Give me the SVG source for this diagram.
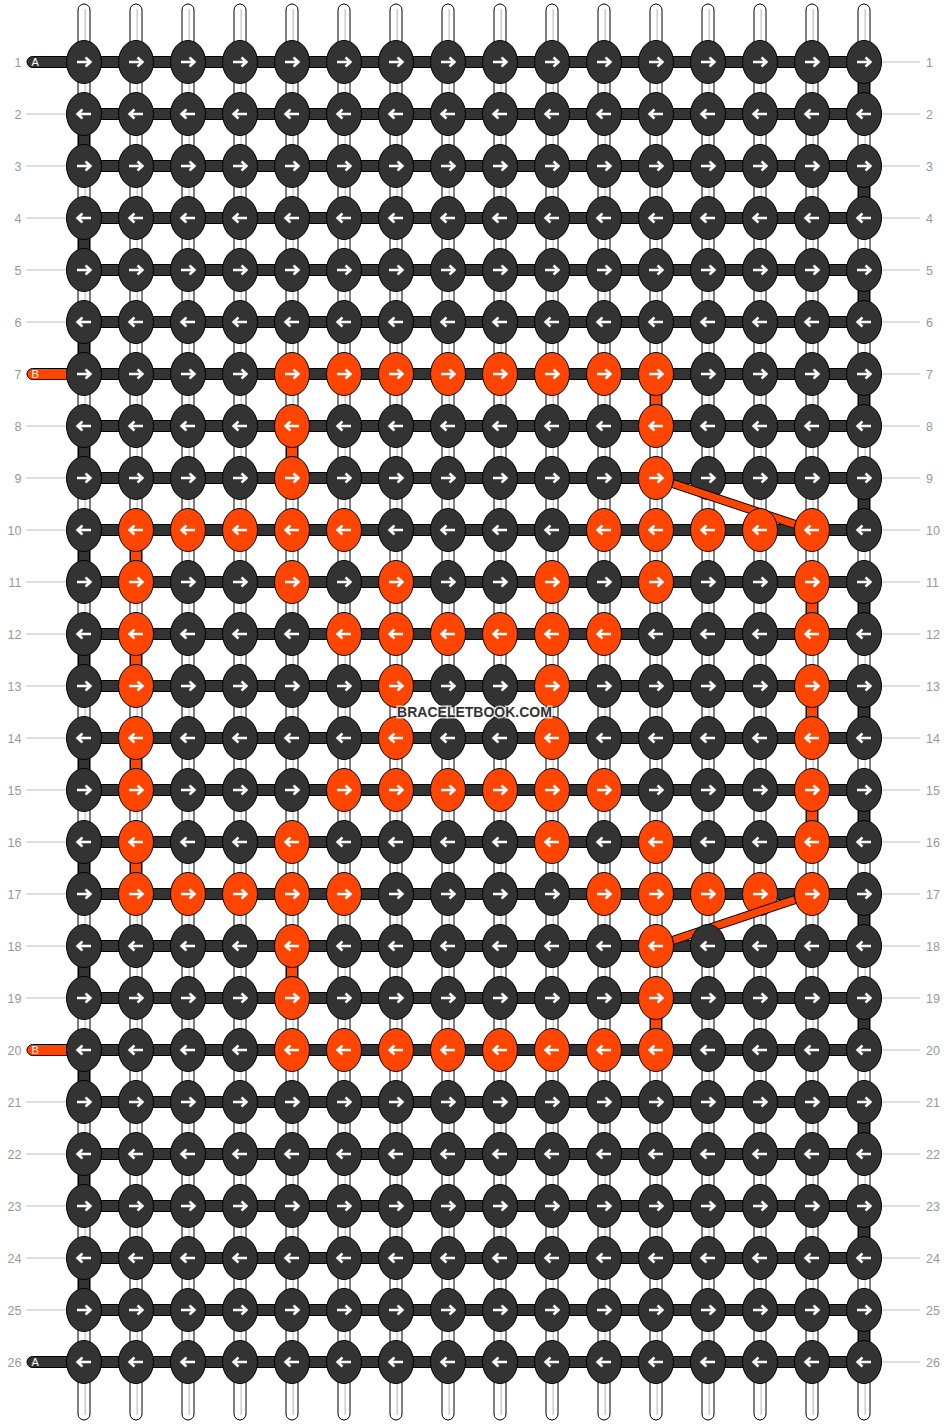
<svg xmlns="http://www.w3.org/2000/svg" xmlns:xlink="http://www.w3.org/1999/xlink" width="948" height="1424" viewBox="0 0 948 1424">
<style>
.st{fill:#fff;stroke:#000;stroke-width:1}
.sg{stroke:#cccccc;stroke-width:1.5}
.bd{fill:#333;stroke:#000;stroke-width:1}
.bo{fill:#ff4500;stroke:#000;stroke-width:1}
.kd{fill:#333;stroke:#000;stroke-width:1}
.ko{fill:#ff4500;stroke:#000;stroke-width:1}
.ar{fill:none;stroke:#fff;stroke-width:2.5}
.rl{stroke:#c0c0c0;stroke-width:1}
.lb{font-family:"Liberation Sans",Arial,sans-serif;font-size:12.5px;fill:#999999}
.lr{text-anchor:end}
.tl{font-family:"Liberation Sans",Arial,sans-serif;font-size:11px;fill:#fff}
.wm{font-family:"Liberation Sans",Arial,sans-serif;font-size:14px;font-weight:bold;fill:#333;stroke:#fff;stroke-opacity:0.75;stroke-width:3;paint-order:stroke;text-anchor:middle}
</style>
<defs>
<g id="dR"><ellipse rx="17.5" ry="21.5" class="kd"/><path class="ar" d="M-7,0H6M1.5,-4.5L6.5,0L1.5,4.5"/></g>
<g id="dL"><ellipse rx="17.5" ry="21.5" class="kd"/><path class="ar" d="M7,0H-6M-1.5,-4.5L-6.5,0L-1.5,4.5"/></g>
<g id="oR"><ellipse rx="17.5" ry="21.5" class="ko"/><path class="ar" d="M-7,0H6M1.5,-4.5L6.5,0L1.5,4.5"/></g>
<g id="oL"><ellipse rx="17.5" ry="21.5" class="ko"/><path class="ar" d="M7,0H-6M-1.5,-4.5L-6.5,0L-1.5,4.5"/></g>
<g id="strand"><rect class="st" x="-6" y="4" width="12" height="1416" rx="6"/><line class="sg" x1="1.2" y1="9" x2="1.2" y2="1415"/></g>
</defs>
<rect width="948" height="1424" fill="#fff"/>
<g id="labels">
<g class="lb lr">
<text x="21.5" y="66.5">1</text><text x="21.5" y="118.5">2</text><text x="21.5" y="170.5">3</text><text x="21.5" y="222.5">4</text><text x="21.5" y="274.5">5</text><text x="21.5" y="326.5">6</text><text x="21.5" y="378.5">7</text><text x="21.5" y="430.5">8</text><text x="21.5" y="482.5">9</text><text x="21.5" y="534.5">10</text><text x="21.5" y="586.5">11</text><text x="21.5" y="638.5">12</text><text x="21.5" y="690.5">13</text><text x="21.5" y="742.5">14</text><text x="21.5" y="794.5">15</text><text x="21.5" y="846.5">16</text><text x="21.5" y="898.5">17</text><text x="21.5" y="950.5">18</text><text x="21.5" y="1002.5">19</text><text x="21.5" y="1054.5">20</text><text x="21.5" y="1106.5">21</text><text x="21.5" y="1158.5">22</text><text x="21.5" y="1210.5">23</text><text x="21.5" y="1262.5">24</text><text x="21.5" y="1314.5">25</text><text x="21.5" y="1366.5">26</text>
</g>
<g class="lb">
<text x="926" y="66.5">1</text><text x="926" y="118.5">2</text><text x="926" y="170.5">3</text><text x="926" y="222.5">4</text><text x="926" y="274.5">5</text><text x="926" y="326.5">6</text><text x="926" y="378.5">7</text><text x="926" y="430.5">8</text><text x="926" y="482.5">9</text><text x="926" y="534.5">10</text><text x="926" y="586.5">11</text><text x="926" y="638.5">12</text><text x="926" y="690.5">13</text><text x="926" y="742.5">14</text><text x="926" y="794.5">15</text><text x="926" y="846.5">16</text><text x="926" y="898.5">17</text><text x="926" y="950.5">18</text><text x="926" y="1002.5">19</text><text x="926" y="1054.5">20</text><text x="926" y="1106.5">21</text><text x="926" y="1158.5">22</text><text x="926" y="1210.5">23</text><text x="926" y="1262.5">24</text><text x="926" y="1314.5">25</text><text x="926" y="1366.5">26</text>
</g>
<g class="rl">
<line x1="26" y1="114" x2="67" y2="114"/><line x1="26" y1="166" x2="67" y2="166"/><line x1="26" y1="218" x2="67" y2="218"/><line x1="26" y1="270" x2="67" y2="270"/><line x1="26" y1="322" x2="67" y2="322"/><line x1="26" y1="426" x2="67" y2="426"/><line x1="26" y1="478" x2="67" y2="478"/><line x1="26" y1="530" x2="67" y2="530"/><line x1="26" y1="582" x2="67" y2="582"/><line x1="26" y1="634" x2="67" y2="634"/><line x1="26" y1="686" x2="67" y2="686"/><line x1="26" y1="738" x2="67" y2="738"/><line x1="26" y1="790" x2="67" y2="790"/><line x1="26" y1="842" x2="67" y2="842"/><line x1="26" y1="894" x2="67" y2="894"/><line x1="26" y1="946" x2="67" y2="946"/><line x1="26" y1="998" x2="67" y2="998"/><line x1="26" y1="1102" x2="67" y2="1102"/><line x1="26" y1="1154" x2="67" y2="1154"/><line x1="26" y1="1206" x2="67" y2="1206"/><line x1="26" y1="1258" x2="67" y2="1258"/><line x1="26" y1="1310" x2="67" y2="1310"/>
<line x1="881" y1="62" x2="920" y2="62"/><line x1="881" y1="114" x2="920" y2="114"/><line x1="881" y1="166" x2="920" y2="166"/><line x1="881" y1="218" x2="920" y2="218"/><line x1="881" y1="270" x2="920" y2="270"/><line x1="881" y1="322" x2="920" y2="322"/><line x1="881" y1="374" x2="920" y2="374"/><line x1="881" y1="426" x2="920" y2="426"/><line x1="881" y1="478" x2="920" y2="478"/><line x1="881" y1="530" x2="920" y2="530"/><line x1="881" y1="582" x2="920" y2="582"/><line x1="881" y1="634" x2="920" y2="634"/><line x1="881" y1="686" x2="920" y2="686"/><line x1="881" y1="738" x2="920" y2="738"/><line x1="881" y1="790" x2="920" y2="790"/><line x1="881" y1="842" x2="920" y2="842"/><line x1="881" y1="894" x2="920" y2="894"/><line x1="881" y1="946" x2="920" y2="946"/><line x1="881" y1="998" x2="920" y2="998"/><line x1="881" y1="1050" x2="920" y2="1050"/><line x1="881" y1="1102" x2="920" y2="1102"/><line x1="881" y1="1154" x2="920" y2="1154"/><line x1="881" y1="1206" x2="920" y2="1206"/><line x1="881" y1="1258" x2="920" y2="1258"/><line x1="881" y1="1310" x2="920" y2="1310"/><line x1="881" y1="1362" x2="920" y2="1362"/>
</g>
</g>
<g id="strands">
<use href="#strand" x="84"/><use href="#strand" x="136"/><use href="#strand" x="188"/><use href="#strand" x="240"/><use href="#strand" x="292"/><use href="#strand" x="344"/><use href="#strand" x="396"/><use href="#strand" x="448"/><use href="#strand" x="500"/><use href="#strand" x="552"/><use href="#strand" x="604"/><use href="#strand" x="656"/><use href="#strand" x="708"/><use href="#strand" x="760"/><use href="#strand" x="812"/><use href="#strand" x="864"/>
</g>
<g id="connectors">
<g id="tails">
<path class="bd" d="M84,56.5H32.5a5.5,5.5 0 0 0 0,11H84Z"/><text class="tl" x="31.5" y="66">A</text>
<path class="bo" d="M84,368.5H32.5a5.5,5.5 0 0 0 0,11H84Z"/><text class="tl" x="31.5" y="378">B</text>
<path class="bo" d="M84,1044.5H32.5a5.5,5.5 0 0 0 0,11H84Z"/><text class="tl" x="31.5" y="1054">B</text>
<path class="bd" d="M84,1356.5H32.5a5.5,5.5 0 0 0 0,11H84Z"/><text class="tl" x="31.5" y="1366">A</text>
</g>
<g id="rowbars" class="bd">
<rect x="84" y="56.5" width="780" height="11"/><rect x="84" y="108.5" width="780" height="11"/><rect x="84" y="160.5" width="780" height="11"/><rect x="84" y="212.5" width="780" height="11"/><rect x="84" y="264.5" width="780" height="11"/><rect x="84" y="316.5" width="780" height="11"/><rect x="84" y="368.5" width="780" height="11"/><rect x="84" y="420.5" width="780" height="11"/><rect x="84" y="472.5" width="780" height="11"/><rect x="84" y="524.5" width="780" height="11"/><rect x="84" y="576.5" width="780" height="11"/><rect x="84" y="628.5" width="780" height="11"/><rect x="84" y="680.5" width="780" height="11"/><rect x="84" y="732.5" width="780" height="11"/><rect x="84" y="784.5" width="780" height="11"/><rect x="84" y="836.5" width="780" height="11"/><rect x="84" y="888.5" width="780" height="11"/><rect x="84" y="940.5" width="780" height="11"/><rect x="84" y="992.5" width="780" height="11"/><rect x="84" y="1044.5" width="780" height="11"/><rect x="84" y="1096.5" width="780" height="11"/><rect x="84" y="1148.5" width="780" height="11"/><rect x="84" y="1200.5" width="780" height="11"/><rect x="84" y="1252.5" width="780" height="11"/><rect x="84" y="1304.5" width="780" height="11"/><rect x="84" y="1356.5" width="780" height="11"/>
</g>
<g id="turns-a" class="bd">
<rect x="858.5" y="62" width="11" height="52"/><rect x="858.5" y="166" width="11" height="52"/><rect x="858.5" y="270" width="11" height="52"/><rect x="858.5" y="374" width="11" height="52"/><rect x="858.5" y="478" width="11" height="52"/><rect x="858.5" y="582" width="11" height="52"/><rect x="858.5" y="686" width="11" height="52"/><rect x="858.5" y="790" width="11" height="52"/><rect x="858.5" y="894" width="11" height="52"/><rect x="858.5" y="998" width="11" height="52"/><rect x="858.5" y="1102" width="11" height="52"/><rect x="858.5" y="1206" width="11" height="52"/><rect x="858.5" y="1310" width="11" height="52"/>
<rect x="78.5" y="114" width="11" height="52"/><rect x="78.5" y="218" width="11" height="52"/><rect x="78.5" y="322" width="11" height="52"/><rect x="78.5" y="426" width="11" height="52"/><rect x="78.5" y="530" width="11" height="52"/><rect x="78.5" y="634" width="11" height="52"/><rect x="78.5" y="738" width="11" height="52"/><rect x="78.5" y="842" width="11" height="52"/><rect x="78.5" y="946" width="11" height="52"/><rect x="78.5" y="1050" width="11" height="52"/><rect x="78.5" y="1154" width="11" height="52"/><rect x="78.5" y="1258" width="11" height="52"/>
</g>
<g id="turns-b" class="bo">
<rect x="650.5" y="374" width="11" height="52"/><rect x="286.5" y="426" width="11" height="52"/><rect x="130.5" y="530" width="11" height="52"/><rect x="806.5" y="582" width="11" height="52"/><rect x="130.5" y="634" width="11" height="52"/><rect x="806.5" y="686" width="11" height="52"/><rect x="130.5" y="738" width="11" height="52"/><rect x="806.5" y="790" width="11" height="52"/><rect x="130.5" y="842" width="11" height="52"/><rect x="286.5" y="946" width="11" height="52"/><rect x="650.5" y="998" width="11" height="52"/>
</g>
</g>
<g id="knots">
<g id="row1" transform="translate(0,62)"><g id="k1-1"><use href="#dR" x="84"/></g><g id="k1-2"><use href="#dR" x="136"/></g><g id="k1-3"><use href="#dR" x="188"/></g><g id="k1-4"><use href="#dR" x="240"/></g><g id="k1-5"><use href="#dR" x="292"/></g><g id="k1-6"><use href="#dR" x="344"/></g><g id="k1-7"><use href="#dR" x="396"/></g><g id="k1-8"><use href="#dR" x="448"/></g><g id="k1-9"><use href="#dR" x="500"/></g><g id="k1-10"><use href="#dR" x="552"/></g><g id="k1-11"><use href="#dR" x="604"/></g><g id="k1-12"><use href="#dR" x="656"/></g><g id="k1-13"><use href="#dR" x="708"/></g><g id="k1-14"><use href="#dR" x="760"/></g><g id="k1-15"><use href="#dR" x="812"/></g><g id="k1-16"><use href="#dR" x="864"/></g></g>
<g id="row2" transform="translate(0,114)"><g id="k2-1"><use href="#dL" x="84"/></g><g id="k2-2"><use href="#dL" x="136"/></g><g id="k2-3"><use href="#dL" x="188"/></g><g id="k2-4"><use href="#dL" x="240"/></g><g id="k2-5"><use href="#dL" x="292"/></g><g id="k2-6"><use href="#dL" x="344"/></g><g id="k2-7"><use href="#dL" x="396"/></g><g id="k2-8"><use href="#dL" x="448"/></g><g id="k2-9"><use href="#dL" x="500"/></g><g id="k2-10"><use href="#dL" x="552"/></g><g id="k2-11"><use href="#dL" x="604"/></g><g id="k2-12"><use href="#dL" x="656"/></g><g id="k2-13"><use href="#dL" x="708"/></g><g id="k2-14"><use href="#dL" x="760"/></g><g id="k2-15"><use href="#dL" x="812"/></g><g id="k2-16"><use href="#dL" x="864"/></g></g>
<g id="row3" transform="translate(0,166)"><g id="k3-1"><use href="#dR" x="84"/></g><g id="k3-2"><use href="#dR" x="136"/></g><g id="k3-3"><use href="#dR" x="188"/></g><g id="k3-4"><use href="#dR" x="240"/></g><g id="k3-5"><use href="#dR" x="292"/></g><g id="k3-6"><use href="#dR" x="344"/></g><g id="k3-7"><use href="#dR" x="396"/></g><g id="k3-8"><use href="#dR" x="448"/></g><g id="k3-9"><use href="#dR" x="500"/></g><g id="k3-10"><use href="#dR" x="552"/></g><g id="k3-11"><use href="#dR" x="604"/></g><g id="k3-12"><use href="#dR" x="656"/></g><g id="k3-13"><use href="#dR" x="708"/></g><g id="k3-14"><use href="#dR" x="760"/></g><g id="k3-15"><use href="#dR" x="812"/></g><g id="k3-16"><use href="#dR" x="864"/></g></g>
<g id="row4" transform="translate(0,218)"><g id="k4-1"><use href="#dL" x="84"/></g><g id="k4-2"><use href="#dL" x="136"/></g><g id="k4-3"><use href="#dL" x="188"/></g><g id="k4-4"><use href="#dL" x="240"/></g><g id="k4-5"><use href="#dL" x="292"/></g><g id="k4-6"><use href="#dL" x="344"/></g><g id="k4-7"><use href="#dL" x="396"/></g><g id="k4-8"><use href="#dL" x="448"/></g><g id="k4-9"><use href="#dL" x="500"/></g><g id="k4-10"><use href="#dL" x="552"/></g><g id="k4-11"><use href="#dL" x="604"/></g><g id="k4-12"><use href="#dL" x="656"/></g><g id="k4-13"><use href="#dL" x="708"/></g><g id="k4-14"><use href="#dL" x="760"/></g><g id="k4-15"><use href="#dL" x="812"/></g><g id="k4-16"><use href="#dL" x="864"/></g></g>
<g id="row5" transform="translate(0,270)"><g id="k5-1"><use href="#dR" x="84"/></g><g id="k5-2"><use href="#dR" x="136"/></g><g id="k5-3"><use href="#dR" x="188"/></g><g id="k5-4"><use href="#dR" x="240"/></g><g id="k5-5"><use href="#dR" x="292"/></g><g id="k5-6"><use href="#dR" x="344"/></g><g id="k5-7"><use href="#dR" x="396"/></g><g id="k5-8"><use href="#dR" x="448"/></g><g id="k5-9"><use href="#dR" x="500"/></g><g id="k5-10"><use href="#dR" x="552"/></g><g id="k5-11"><use href="#dR" x="604"/></g><g id="k5-12"><use href="#dR" x="656"/></g><g id="k5-13"><use href="#dR" x="708"/></g><g id="k5-14"><use href="#dR" x="760"/></g><g id="k5-15"><use href="#dR" x="812"/></g><g id="k5-16"><use href="#dR" x="864"/></g></g>
<g id="row6" transform="translate(0,322)"><g id="k6-1"><use href="#dL" x="84"/></g><g id="k6-2"><use href="#dL" x="136"/></g><g id="k6-3"><use href="#dL" x="188"/></g><g id="k6-4"><use href="#dL" x="240"/></g><g id="k6-5"><use href="#dL" x="292"/></g><g id="k6-6"><use href="#dL" x="344"/></g><g id="k6-7"><use href="#dL" x="396"/></g><g id="k6-8"><use href="#dL" x="448"/></g><g id="k6-9"><use href="#dL" x="500"/></g><g id="k6-10"><use href="#dL" x="552"/></g><g id="k6-11"><use href="#dL" x="604"/></g><g id="k6-12"><use href="#dL" x="656"/></g><g id="k6-13"><use href="#dL" x="708"/></g><g id="k6-14"><use href="#dL" x="760"/></g><g id="k6-15"><use href="#dL" x="812"/></g><g id="k6-16"><use href="#dL" x="864"/></g></g>
<g id="row7" transform="translate(0,374)"><g id="k7-1"><use href="#dR" x="84"/></g><g id="k7-2"><use href="#dR" x="136"/></g><g id="k7-3"><use href="#dR" x="188"/></g><g id="k7-4"><use href="#dR" x="240"/></g><g id="k7-5"><use href="#oR" x="292"/></g><g id="k7-6"><use href="#oR" x="344"/></g><g id="k7-7"><use href="#oR" x="396"/></g><g id="k7-8"><use href="#oR" x="448"/></g><g id="k7-9"><use href="#oR" x="500"/></g><g id="k7-10"><use href="#oR" x="552"/></g><g id="k7-11"><use href="#oR" x="604"/></g><g id="k7-12"><use href="#oR" x="656"/></g><g id="k7-13"><use href="#dR" x="708"/></g><g id="k7-14"><use href="#dR" x="760"/></g><g id="k7-15"><use href="#dR" x="812"/></g><g id="k7-16"><use href="#dR" x="864"/></g></g>
<g id="row8" transform="translate(0,426)"><g id="k8-1"><use href="#dL" x="84"/></g><g id="k8-2"><use href="#dL" x="136"/></g><g id="k8-3"><use href="#dL" x="188"/></g><g id="k8-4"><use href="#dL" x="240"/></g><g id="k8-5"><use href="#oL" x="292"/></g><g id="k8-6"><use href="#dL" x="344"/></g><g id="k8-7"><use href="#dL" x="396"/></g><g id="k8-8"><use href="#dL" x="448"/></g><g id="k8-9"><use href="#dL" x="500"/></g><g id="k8-10"><use href="#dL" x="552"/></g><g id="k8-11"><use href="#dL" x="604"/></g><g id="k8-12"><use href="#oL" x="656"/></g><g id="k8-13"><use href="#dL" x="708"/></g><g id="k8-14"><use href="#dL" x="760"/></g><g id="k8-15"><use href="#dL" x="812"/></g><g id="k8-16"><use href="#dL" x="864"/></g></g>
<g id="row9" transform="translate(0,478)"><g id="k9-1"><use href="#dR" x="84"/></g><g id="k9-2"><use href="#dR" x="136"/></g><g id="k9-3"><use href="#dR" x="188"/></g><g id="k9-4"><use href="#dR" x="240"/></g><g id="k9-5"><use href="#oR" x="292"/></g><g id="k9-6"><use href="#dR" x="344"/></g><g id="k9-7"><use href="#dR" x="396"/></g><g id="k9-8"><use href="#dR" x="448"/></g><g id="k9-9"><use href="#dR" x="500"/></g><g id="k9-10"><use href="#dR" x="552"/></g><g id="k9-11"><use href="#dR" x="604"/></g><g id="k9-12"><use href="#oR" x="656"/></g><g id="k9-13"><use href="#dR" x="708"/></g><g id="k9-14"><use href="#dR" x="760"/></g><g id="k9-15"><use href="#dR" x="812"/></g><g id="k9-16"><use href="#dR" x="864"/></g></g>
<g id="link-b-9-10" class="bo"><polygon points="671.6,487.4 793.8,528.2 796.4,520.6 674.2,479.8"/></g>
<g id="row10" transform="translate(0,530)"><g id="k10-1"><use href="#dL" x="84"/></g><g id="k10-2"><use href="#oL" x="136"/></g><g id="k10-3"><use href="#oL" x="188"/></g><g id="k10-4"><use href="#oL" x="240"/></g><g id="k10-5"><use href="#oL" x="292"/></g><g id="k10-6"><use href="#oL" x="344"/></g><g id="k10-7"><use href="#dL" x="396"/></g><g id="k10-8"><use href="#dL" x="448"/></g><g id="k10-9"><use href="#dL" x="500"/></g><g id="k10-10"><use href="#dL" x="552"/></g><g id="k10-11"><use href="#oL" x="604"/></g><g id="k10-12"><use href="#oL" x="656"/></g><g id="k10-13"><use href="#oL" x="708"/></g><g id="k10-14"><use href="#oL" x="760"/></g><g id="k10-15"><use href="#oL" x="812"/></g><g id="k10-16"><use href="#dL" x="864"/></g></g>
<g id="row11" transform="translate(0,582)"><g id="k11-1"><use href="#dR" x="84"/></g><g id="k11-2"><use href="#oR" x="136"/></g><g id="k11-3"><use href="#dR" x="188"/></g><g id="k11-4"><use href="#dR" x="240"/></g><g id="k11-5"><use href="#oR" x="292"/></g><g id="k11-6"><use href="#dR" x="344"/></g><g id="k11-7"><use href="#oR" x="396"/></g><g id="k11-8"><use href="#dR" x="448"/></g><g id="k11-9"><use href="#dR" x="500"/></g><g id="k11-10"><use href="#oR" x="552"/></g><g id="k11-11"><use href="#dR" x="604"/></g><g id="k11-12"><use href="#oR" x="656"/></g><g id="k11-13"><use href="#dR" x="708"/></g><g id="k11-14"><use href="#dR" x="760"/></g><g id="k11-15"><use href="#oR" x="812"/></g><g id="k11-16"><use href="#dR" x="864"/></g></g>
<g id="row12" transform="translate(0,634)"><g id="k12-1"><use href="#dL" x="84"/></g><g id="k12-2"><use href="#oL" x="136"/></g><g id="k12-3"><use href="#dL" x="188"/></g><g id="k12-4"><use href="#dL" x="240"/></g><g id="k12-5"><use href="#dL" x="292"/></g><g id="k12-6"><use href="#oL" x="344"/></g><g id="k12-7"><use href="#oL" x="396"/></g><g id="k12-8"><use href="#oL" x="448"/></g><g id="k12-9"><use href="#oL" x="500"/></g><g id="k12-10"><use href="#oL" x="552"/></g><g id="k12-11"><use href="#oL" x="604"/></g><g id="k12-12"><use href="#dL" x="656"/></g><g id="k12-13"><use href="#dL" x="708"/></g><g id="k12-14"><use href="#dL" x="760"/></g><g id="k12-15"><use href="#oL" x="812"/></g><g id="k12-16"><use href="#dL" x="864"/></g></g>
<g id="row13" transform="translate(0,686)"><g id="k13-1"><use href="#dR" x="84"/></g><g id="k13-2"><use href="#oR" x="136"/></g><g id="k13-3"><use href="#dR" x="188"/></g><g id="k13-4"><use href="#dR" x="240"/></g><g id="k13-5"><use href="#dR" x="292"/></g><g id="k13-6"><use href="#dR" x="344"/></g><g id="k13-7"><use href="#oR" x="396"/></g><g id="k13-8"><use href="#dR" x="448"/></g><g id="k13-9"><use href="#dR" x="500"/></g><g id="k13-10"><use href="#oR" x="552"/></g><g id="k13-11"><use href="#dR" x="604"/></g><g id="k13-12"><use href="#dR" x="656"/></g><g id="k13-13"><use href="#dR" x="708"/></g><g id="k13-14"><use href="#dR" x="760"/></g><g id="k13-15"><use href="#oR" x="812"/></g><g id="k13-16"><use href="#dR" x="864"/></g></g>
<g id="row14" transform="translate(0,738)"><g id="k14-1"><use href="#dL" x="84"/></g><g id="k14-2"><use href="#oL" x="136"/></g><g id="k14-3"><use href="#dL" x="188"/></g><g id="k14-4"><use href="#dL" x="240"/></g><g id="k14-5"><use href="#dL" x="292"/></g><g id="k14-6"><use href="#dL" x="344"/></g><g id="k14-7"><use href="#oL" x="396"/></g><g id="k14-8"><use href="#dL" x="448"/></g><g id="k14-9"><use href="#dL" x="500"/></g><g id="k14-10"><use href="#oL" x="552"/></g><g id="k14-11"><use href="#dL" x="604"/></g><g id="k14-12"><use href="#dL" x="656"/></g><g id="k14-13"><use href="#dL" x="708"/></g><g id="k14-14"><use href="#dL" x="760"/></g><g id="k14-15"><use href="#oL" x="812"/></g><g id="k14-16"><use href="#dL" x="864"/></g></g>
<g id="row15" transform="translate(0,790)"><g id="k15-1"><use href="#dR" x="84"/></g><g id="k15-2"><use href="#oR" x="136"/></g><g id="k15-3"><use href="#dR" x="188"/></g><g id="k15-4"><use href="#dR" x="240"/></g><g id="k15-5"><use href="#dR" x="292"/></g><g id="k15-6"><use href="#oR" x="344"/></g><g id="k15-7"><use href="#oR" x="396"/></g><g id="k15-8"><use href="#oR" x="448"/></g><g id="k15-9"><use href="#oR" x="500"/></g><g id="k15-10"><use href="#oR" x="552"/></g><g id="k15-11"><use href="#oR" x="604"/></g><g id="k15-12"><use href="#dR" x="656"/></g><g id="k15-13"><use href="#dR" x="708"/></g><g id="k15-14"><use href="#dR" x="760"/></g><g id="k15-15"><use href="#oR" x="812"/></g><g id="k15-16"><use href="#dR" x="864"/></g></g>
<g id="row16" transform="translate(0,842)"><g id="k16-1"><use href="#dL" x="84"/></g><g id="k16-2"><use href="#oL" x="136"/></g><g id="k16-3"><use href="#dL" x="188"/></g><g id="k16-4"><use href="#dL" x="240"/></g><g id="k16-5"><use href="#oL" x="292"/></g><g id="k16-6"><use href="#dL" x="344"/></g><g id="k16-7"><use href="#dL" x="396"/></g><g id="k16-8"><use href="#dL" x="448"/></g><g id="k16-9"><use href="#dL" x="500"/></g><g id="k16-10"><use href="#oL" x="552"/></g><g id="k16-11"><use href="#dL" x="604"/></g><g id="k16-12"><use href="#oL" x="656"/></g><g id="k16-13"><use href="#dL" x="708"/></g><g id="k16-14"><use href="#dL" x="760"/></g><g id="k16-15"><use href="#oL" x="812"/></g><g id="k16-16"><use href="#dL" x="864"/></g></g>
<g id="row17" transform="translate(0,894)"><g id="k17-1"><use href="#dR" x="84"/></g><g id="k17-2"><use href="#oR" x="136"/></g><g id="k17-3"><use href="#oR" x="188"/></g><g id="k17-4"><use href="#oR" x="240"/></g><g id="k17-5"><use href="#oR" x="292"/></g><g id="k17-6"><use href="#oR" x="344"/></g><g id="k17-7"><use href="#dR" x="396"/></g><g id="k17-8"><use href="#dR" x="448"/></g><g id="k17-9"><use href="#dR" x="500"/></g><g id="k17-10"><use href="#dR" x="552"/></g><g id="k17-11"><use href="#oR" x="604"/></g><g id="k17-12"><use href="#oR" x="656"/></g><g id="k17-13"><use href="#oR" x="708"/></g><g id="k17-14"><use href="#oR" x="760"/></g><g id="k17-15"><use href="#oR" x="812"/></g><g id="k17-16"><use href="#dR" x="864"/></g></g>
<g id="link-b-17-18" class="bo"><polygon points="796.4,903.4 674.2,944.2 671.6,936.6 793.8,895.8"/></g>
<g id="row18" transform="translate(0,946)"><g id="k18-1"><use href="#dL" x="84"/></g><g id="k18-2"><use href="#dL" x="136"/></g><g id="k18-3"><use href="#dL" x="188"/></g><g id="k18-4"><use href="#dL" x="240"/></g><g id="k18-5"><use href="#oL" x="292"/></g><g id="k18-6"><use href="#dL" x="344"/></g><g id="k18-7"><use href="#dL" x="396"/></g><g id="k18-8"><use href="#dL" x="448"/></g><g id="k18-9"><use href="#dL" x="500"/></g><g id="k18-10"><use href="#dL" x="552"/></g><g id="k18-11"><use href="#dL" x="604"/></g><g id="k18-12"><use href="#oL" x="656"/></g><g id="k18-13"><use href="#dL" x="708"/></g><g id="k18-14"><use href="#dL" x="760"/></g><g id="k18-15"><use href="#dL" x="812"/></g><g id="k18-16"><use href="#dL" x="864"/></g></g>
<g id="row19" transform="translate(0,998)"><g id="k19-1"><use href="#dR" x="84"/></g><g id="k19-2"><use href="#dR" x="136"/></g><g id="k19-3"><use href="#dR" x="188"/></g><g id="k19-4"><use href="#dR" x="240"/></g><g id="k19-5"><use href="#oR" x="292"/></g><g id="k19-6"><use href="#dR" x="344"/></g><g id="k19-7"><use href="#dR" x="396"/></g><g id="k19-8"><use href="#dR" x="448"/></g><g id="k19-9"><use href="#dR" x="500"/></g><g id="k19-10"><use href="#dR" x="552"/></g><g id="k19-11"><use href="#dR" x="604"/></g><g id="k19-12"><use href="#oR" x="656"/></g><g id="k19-13"><use href="#dR" x="708"/></g><g id="k19-14"><use href="#dR" x="760"/></g><g id="k19-15"><use href="#dR" x="812"/></g><g id="k19-16"><use href="#dR" x="864"/></g></g>
<g id="row20" transform="translate(0,1050)"><g id="k20-1"><use href="#dL" x="84"/></g><g id="k20-2"><use href="#dL" x="136"/></g><g id="k20-3"><use href="#dL" x="188"/></g><g id="k20-4"><use href="#dL" x="240"/></g><g id="k20-5"><use href="#oL" x="292"/></g><g id="k20-6"><use href="#oL" x="344"/></g><g id="k20-7"><use href="#oL" x="396"/></g><g id="k20-8"><use href="#oL" x="448"/></g><g id="k20-9"><use href="#oL" x="500"/></g><g id="k20-10"><use href="#oL" x="552"/></g><g id="k20-11"><use href="#oL" x="604"/></g><g id="k20-12"><use href="#oL" x="656"/></g><g id="k20-13"><use href="#dL" x="708"/></g><g id="k20-14"><use href="#dL" x="760"/></g><g id="k20-15"><use href="#dL" x="812"/></g><g id="k20-16"><use href="#dL" x="864"/></g></g>
<g id="row21" transform="translate(0,1102)"><g id="k21-1"><use href="#dR" x="84"/></g><g id="k21-2"><use href="#dR" x="136"/></g><g id="k21-3"><use href="#dR" x="188"/></g><g id="k21-4"><use href="#dR" x="240"/></g><g id="k21-5"><use href="#dR" x="292"/></g><g id="k21-6"><use href="#dR" x="344"/></g><g id="k21-7"><use href="#dR" x="396"/></g><g id="k21-8"><use href="#dR" x="448"/></g><g id="k21-9"><use href="#dR" x="500"/></g><g id="k21-10"><use href="#dR" x="552"/></g><g id="k21-11"><use href="#dR" x="604"/></g><g id="k21-12"><use href="#dR" x="656"/></g><g id="k21-13"><use href="#dR" x="708"/></g><g id="k21-14"><use href="#dR" x="760"/></g><g id="k21-15"><use href="#dR" x="812"/></g><g id="k21-16"><use href="#dR" x="864"/></g></g>
<g id="row22" transform="translate(0,1154)"><g id="k22-1"><use href="#dL" x="84"/></g><g id="k22-2"><use href="#dL" x="136"/></g><g id="k22-3"><use href="#dL" x="188"/></g><g id="k22-4"><use href="#dL" x="240"/></g><g id="k22-5"><use href="#dL" x="292"/></g><g id="k22-6"><use href="#dL" x="344"/></g><g id="k22-7"><use href="#dL" x="396"/></g><g id="k22-8"><use href="#dL" x="448"/></g><g id="k22-9"><use href="#dL" x="500"/></g><g id="k22-10"><use href="#dL" x="552"/></g><g id="k22-11"><use href="#dL" x="604"/></g><g id="k22-12"><use href="#dL" x="656"/></g><g id="k22-13"><use href="#dL" x="708"/></g><g id="k22-14"><use href="#dL" x="760"/></g><g id="k22-15"><use href="#dL" x="812"/></g><g id="k22-16"><use href="#dL" x="864"/></g></g>
<g id="row23" transform="translate(0,1206)"><g id="k23-1"><use href="#dR" x="84"/></g><g id="k23-2"><use href="#dR" x="136"/></g><g id="k23-3"><use href="#dR" x="188"/></g><g id="k23-4"><use href="#dR" x="240"/></g><g id="k23-5"><use href="#dR" x="292"/></g><g id="k23-6"><use href="#dR" x="344"/></g><g id="k23-7"><use href="#dR" x="396"/></g><g id="k23-8"><use href="#dR" x="448"/></g><g id="k23-9"><use href="#dR" x="500"/></g><g id="k23-10"><use href="#dR" x="552"/></g><g id="k23-11"><use href="#dR" x="604"/></g><g id="k23-12"><use href="#dR" x="656"/></g><g id="k23-13"><use href="#dR" x="708"/></g><g id="k23-14"><use href="#dR" x="760"/></g><g id="k23-15"><use href="#dR" x="812"/></g><g id="k23-16"><use href="#dR" x="864"/></g></g>
<g id="row24" transform="translate(0,1258)"><g id="k24-1"><use href="#dL" x="84"/></g><g id="k24-2"><use href="#dL" x="136"/></g><g id="k24-3"><use href="#dL" x="188"/></g><g id="k24-4"><use href="#dL" x="240"/></g><g id="k24-5"><use href="#dL" x="292"/></g><g id="k24-6"><use href="#dL" x="344"/></g><g id="k24-7"><use href="#dL" x="396"/></g><g id="k24-8"><use href="#dL" x="448"/></g><g id="k24-9"><use href="#dL" x="500"/></g><g id="k24-10"><use href="#dL" x="552"/></g><g id="k24-11"><use href="#dL" x="604"/></g><g id="k24-12"><use href="#dL" x="656"/></g><g id="k24-13"><use href="#dL" x="708"/></g><g id="k24-14"><use href="#dL" x="760"/></g><g id="k24-15"><use href="#dL" x="812"/></g><g id="k24-16"><use href="#dL" x="864"/></g></g>
<g id="row25" transform="translate(0,1310)"><g id="k25-1"><use href="#dR" x="84"/></g><g id="k25-2"><use href="#dR" x="136"/></g><g id="k25-3"><use href="#dR" x="188"/></g><g id="k25-4"><use href="#dR" x="240"/></g><g id="k25-5"><use href="#dR" x="292"/></g><g id="k25-6"><use href="#dR" x="344"/></g><g id="k25-7"><use href="#dR" x="396"/></g><g id="k25-8"><use href="#dR" x="448"/></g><g id="k25-9"><use href="#dR" x="500"/></g><g id="k25-10"><use href="#dR" x="552"/></g><g id="k25-11"><use href="#dR" x="604"/></g><g id="k25-12"><use href="#dR" x="656"/></g><g id="k25-13"><use href="#dR" x="708"/></g><g id="k25-14"><use href="#dR" x="760"/></g><g id="k25-15"><use href="#dR" x="812"/></g><g id="k25-16"><use href="#dR" x="864"/></g></g>
<g id="row26" transform="translate(0,1362)"><g id="k26-1"><use href="#dL" x="84"/></g><g id="k26-2"><use href="#dL" x="136"/></g><g id="k26-3"><use href="#dL" x="188"/></g><g id="k26-4"><use href="#dL" x="240"/></g><g id="k26-5"><use href="#dL" x="292"/></g><g id="k26-6"><use href="#dL" x="344"/></g><g id="k26-7"><use href="#dL" x="396"/></g><g id="k26-8"><use href="#dL" x="448"/></g><g id="k26-9"><use href="#dL" x="500"/></g><g id="k26-10"><use href="#dL" x="552"/></g><g id="k26-11"><use href="#dL" x="604"/></g><g id="k26-12"><use href="#dL" x="656"/></g><g id="k26-13"><use href="#dL" x="708"/></g><g id="k26-14"><use href="#dL" x="760"/></g><g id="k26-15"><use href="#dL" x="812"/></g><g id="k26-16"><use href="#dL" x="864"/></g></g>
</g>
<text class="wm" x="474.5" y="716.5">BRACELETBOOK.COM</text>
</svg>
